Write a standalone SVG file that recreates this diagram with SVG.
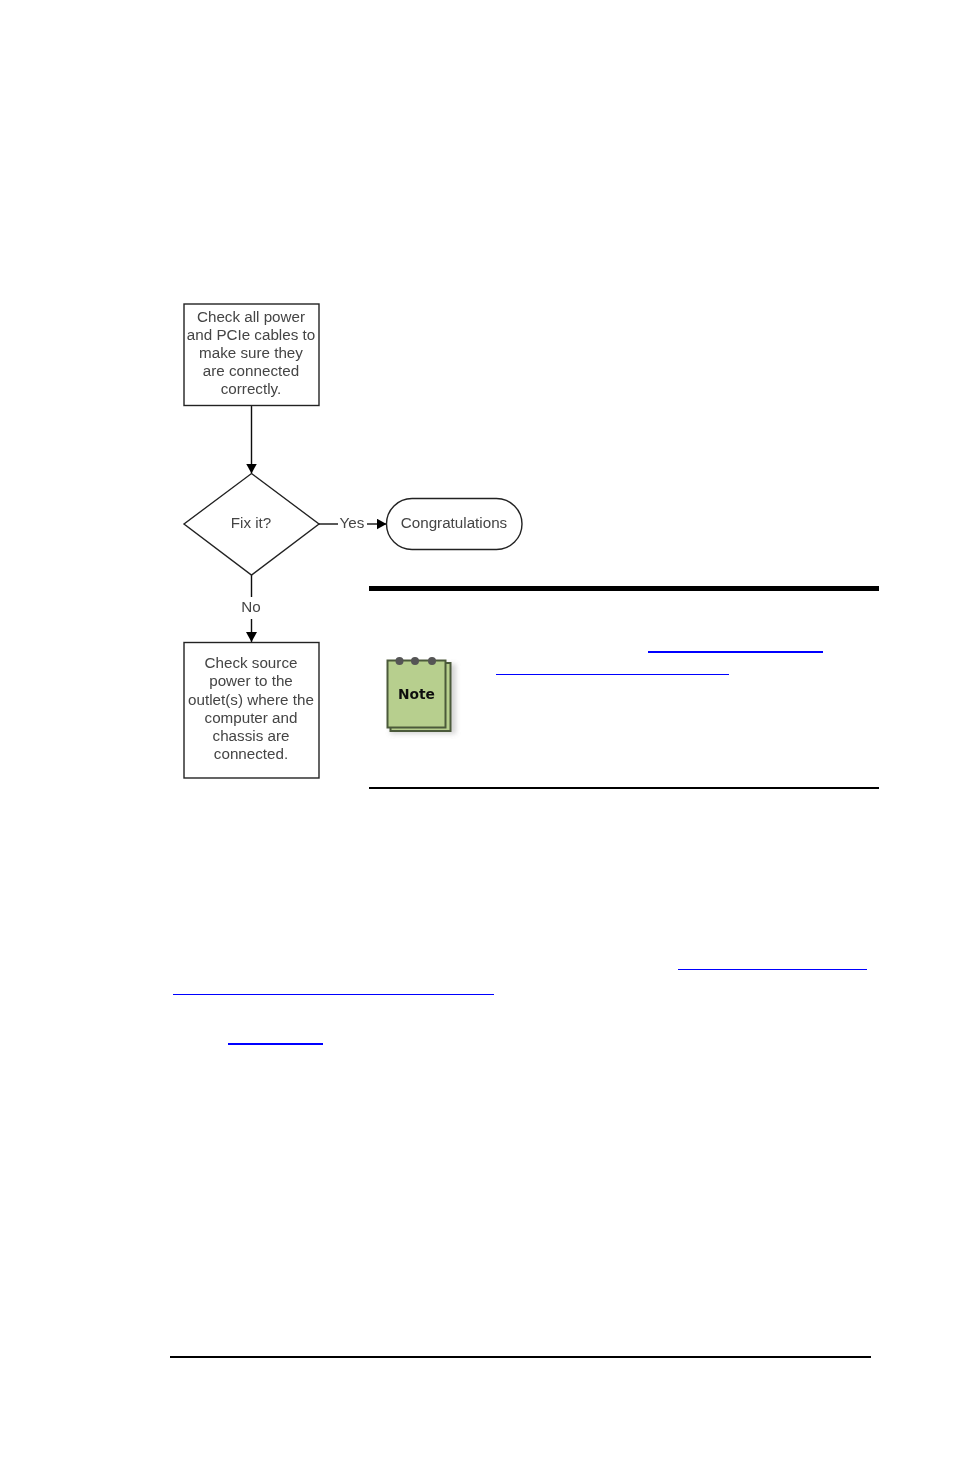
<svg xmlns="http://www.w3.org/2000/svg" width="954" height="1475" viewBox="0 0 954 1475">
<defs>
<marker id="arrow" markerUnits="userSpaceOnUse" markerWidth="10" markerHeight="11" refX="10" refY="5.500" orient="auto"><path d="M0 0L10 5.500L0 11Z" fill="#000"/></marker>
<filter id="blur" x="-20%" y="-20%" width="140%" height="140%"><feGaussianBlur stdDeviation="2.500"/></filter>
<filter id="soft" x="-5%" y="-5%" width="110%" height="110%"><feGaussianBlur stdDeviation="0.400"/></filter>
</defs>
<style>
.shape{fill:#fff;stroke:#222;stroke-width:1.4}
.conn{fill:none;stroke:#111;stroke-width:1.4}
text{font-family:"Liberation Sans",Arial,sans-serif;font-size:15.2px;fill:#444;text-anchor:middle}
.bar{stroke:#000;fill:none}
.link{stroke:#00f;fill:none}
</style>
<rect width="954" height="1475" fill="#fff"/>
<g filter="url(#soft)">
<g id="connectors">
<path class="conn" d="M251.500 406V473.500" marker-end="url(#arrow)"/>
<path class="conn" d="M319 524H338"/>
<path class="conn" d="M367 524H386.500" marker-end="url(#arrow)"/>
<path class="conn" d="M251.500 575V597"/>
<path class="conn" d="M251.500 619V642" marker-end="url(#arrow)"/>
<text x="352" y="528">Yes</text>
<text x="251" y="612">No</text>
</g>
<g id="node-check-cables">
<rect class="shape" x="184" y="304" width="135" height="101.500"/>
<text x="251" y="322">Check all power</text>
<text x="251" y="340">and PCIe cables to</text>
<text x="251" y="358">make sure they</text>
<text x="251" y="376">are connected</text>
<text x="251" y="394">correctly.</text>
</g>
<g id="node-fix">
<path class="shape" d="M251.500 473.500L319 524L251.500 575L184 524Z"/>
<text x="251" y="528">Fix it?</text>
</g>
<g id="node-congratulations">
<rect class="shape" x="386.500" y="498.500" width="135.500" height="51" rx="25.500"/>
<text x="454" y="528">Congratulations</text>
</g>
<g id="node-check-source">
<rect class="shape" x="184" y="642.500" width="135" height="135.500"/>
<text x="251" y="668">Check source</text>
<text x="251" y="686">power to the</text>
<text x="251" y="705">outlet(s) where the</text>
<text x="251" y="723">computer and</text>
<text x="251" y="741">chassis are</text>
<text x="251" y="759">connected.</text>
</g>
<g id="note-icon">
<rect x="390" y="664" width="66" height="70" fill="#999" opacity=".4" filter="url(#blur)"/>
<rect x="390.500" y="663" width="60" height="68" fill="#b7cf8e" stroke="#4c5a3a" stroke-width="2"/>
<rect x="387.500" y="660.500" width="58" height="67" fill="#b7cf8e" stroke="#4c5a3a" stroke-width="2"/>
<circle cx="399.500" cy="661" r="4" fill="#555"/>
<circle cx="415" cy="661" r="4" fill="#555"/>
<circle cx="432" cy="661" r="4" fill="#555"/>
<text x="416.500" y="699" style="font-family:'DejaVu Sans',sans-serif;font-size:13.800px;font-weight:700;fill:#111">Note</text>
</g>
</g>
<g id="rules">
<path class="bar" stroke-width="5" d="M369 588.500H879"/>
<path class="bar" stroke-width="2" d="M369 788H879"/>
<path class="bar" stroke-width="2" d="M170 1357H871"/>
</g>
<g id="links">
<path class="link" stroke-width="2" d="M648 652H823"/>
<path class="link" stroke-width="1" d="M496 674.500H729"/>
<path class="link" stroke-width="1" d="M678 969.500H867"/>
<path class="link" stroke-width="1" d="M173 994.500H494"/>
<path class="link" stroke-width="2" d="M228 1044H323"/>
</g>
</svg>
